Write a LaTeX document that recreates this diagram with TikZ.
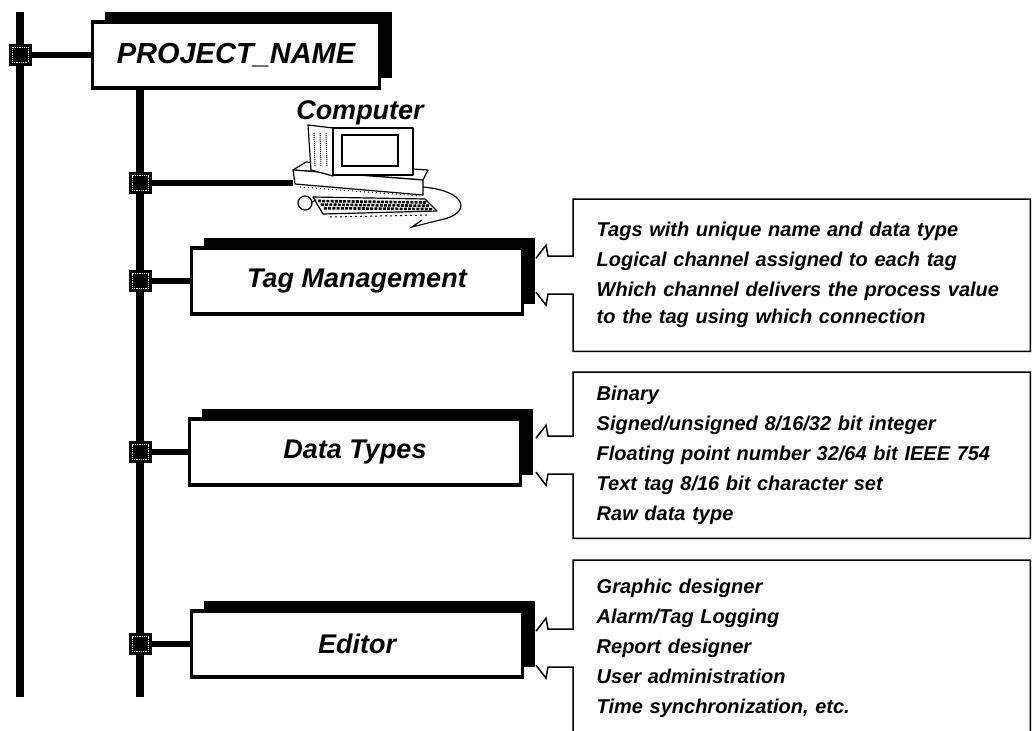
\documentclass[tikz,border=0pt]{standalone}
\usepackage{fontspec}
\setmainfont{Liberation Sans}
\usetikzlibrary{backgrounds,shadows}
\tikzset{
  trunk/.style={line width=7.5pt},
  branch/.style={line width=6pt},
  joint/.style={rectangle, draw=black, fill=black, line width=1pt, inner sep=0pt,
    minimum width=22pt, minimum height=21pt,
    path picture={\draw[white, line width=0.8pt, densely dotted]
      ([shift={(3pt,3pt)}]path picture bounding box.south west) rectangle
      ([shift={(-3pt,-3pt)}]path picture bounding box.north east);}},
  module/.style={rectangle, draw=black, fill=white, line width=3.5pt,
    minimum width=331pt, minimum height=66pt,
    font=\fontsize{27}{32}\selectfont\bfseries\itshape,
    drop shadow={shadow xshift=12pt, shadow yshift=10pt, opacity=1, fill=black}},
  notes/.style={anchor=north west, text width=410pt, inner xsep=23.5pt, inner ysep=0pt,
    align=left, font=\fontsize{20}{30}\selectfont\bfseries\itshape},
  callout/.style={line width=1.5pt, line join=miter},
  pc part/.style={draw=black, fill=white, line width=1.2pt, line join=round},
}

\begin{document}
\begin{tikzpicture}[x=1pt,y=-1pt]
  \useasboundingbox (0,0) rectangle (1032,730);
  \clip (0,0) rectangle (1032,730);

  % Project and its modules
  \node[module, minimum width=287pt, font=\fontsize{29}{34}\selectfont\bfseries\itshape]
    (proj) at (236,55) {PROJECT\_NAME};
  \node[module] (tags) at (357,281) {Tag Management};
  \node[module] (types) at (355,452) {Data Types};
  \node[module] (editor) at (357,644) {Editor};

  % Joints on the trunks
  \node[joint] (j0) at (20,55) {};
  \node[joint] (j1) at (140,183) {};
  \node[joint] (j2) at (140,281) {};
  \node[joint] (j3) at (140,452) {};
  \node[joint] (j4) at (140,644) {};

  \coordinate (top0) at (20,12);
  \coordinate (end0) at (20,697);
  \coordinate (end1) at (140,697);
  \coordinate (pc) at (293,183);

  % Trunks and branches
  \begin{scope}[on background layer]
    \draw[trunk] (top0) -- (end0);
    \draw[trunk] (proj.south -| j1) -- (end1);
    \draw[branch] (j0) -- (proj.west);
    \draw[branch] (j1) -- (pc);
    \foreach \j/\m in {j2/tags, j3/types, j4/editor}
      \draw[branch] (\j) -- (\m.west);
  \end{scope}

  % Computer
  \draw[pc part] (293,170) -- (306,162) -- (428,170) -- (423,180) -- cycle;
  \draw[pc part] (293,170) -- (423,180) -- (423,195) -- (295,184) -- cycle;
  \draw[pc part] (308,125) -- (333,128) -- (333,176) -- (311,170) -- cycle;
  \draw[pc part] (333,128) rectangle (413,175);
  \draw[line width=1.2pt] (342,135) rectangle (398,166);
  \foreach \x in {314,320,326}
    \draw[densely dotted, line width=1pt] (\x,133) -- (\x+1,166);
  \draw[dash pattern=on 1pt off 3pt, line width=1pt] (300,187) -- (420,196);
  \draw[pc part] (313,197) -- (425,199) -- (437,211) -- (323,214) -- cycle;
  \foreach \r in {0,1,2}
    \draw[dash pattern=on 3pt off 1.2pt, line width=2.6pt]
      (318+3*\r,201+3.6*\r) -- (427+3*\r,202.5+3.3*\r);
  \draw[line width=1.2pt] (305,203) circle (7pt);
  \draw[line width=1.2pt] (312,202) -- (316,200);
  \draw[line width=1.2pt] (423,187) .. controls (468,191) and (472,214) .. (440,220)
    -- (412,227) -- (422,220);
  \draw[dash pattern=on 2pt off 3pt, line width=1pt] (330,217) -- (430,215);
  \node[font=\fontsize{27}{32}\selectfont\bfseries\itshape] (pclabel) at (360,113) {Computer};

  % Notes beside the modules
  \node[notes, minimum height=152pt] (c1) at (573,199)
    {Tags with unique name and data type\\
     Logical channel assigned to each tag\\
     Which channel delivers the process value\\[-3pt]
     to the tag using which connection};
  \node[notes, minimum height=166pt] (c2) at (573,372)
    {Binary\\
     Signed/unsigned 8/16/32 bit integer\\
     Floating point number 32/64 bit IEEE 754\\
     Text tag 8/16 bit character set\\
     Raw data type};
  \node[notes, minimum height=176pt] (c3) at (573,560)
    {Graphic designer\\
     Alarm/Tag Logging\\
     Report designer\\
     User administration\\
     Time synchronization, etc.};

  \foreach \c in {c1,c2,c3}
    \draw[callout] ([xshift=-37pt,yshift=17pt]\c.west) -- ([xshift=-27pt,yshift=30pt]\c.west)
      -- ([xshift=-25pt,yshift=19pt]\c.west) -- ([yshift=19pt]\c.west)
      -- (\c.north west) -- (\c.north east) -- (\c.south east) -- (\c.south west)
      -- ([yshift=-19pt]\c.west) -- ([xshift=-25pt,yshift=-19pt]\c.west)
      -- ([xshift=-27pt,yshift=-30pt]\c.west) -- ([xshift=-37pt,yshift=-17pt]\c.west);
\end{tikzpicture}
\end{document}
